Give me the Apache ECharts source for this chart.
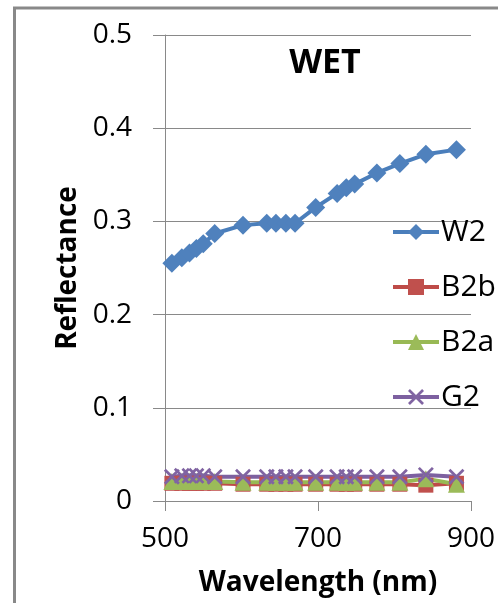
<!DOCTYPE html>
<html>
<head>
<meta charset="utf-8">
<script src="https://cdn.jsdelivr.net/npm/echarts@6/dist/echarts.min.js"></script>
<style>
  html, body { margin: 0; padding: 0; background: #fff; }
  #chart { width: 498px; height: 603px; }
</style>
</head>
<body>
<div id="chart"></div>
<script>
// wavelengths (nm)
const wavelength = [509, 522, 532, 541, 550, 565, 602, 633, 645, 658, 670, 697, 725, 737, 748, 777, 807, 841, 881];
// reflectance per sample
const w2  = [0.255, 0.261, 0.266, 0.271, 0.276, 0.287, 0.296, 0.298, 0.298, 0.298, 0.298, 0.315, 0.330, 0.336, 0.340, 0.352, 0.362, 0.372, 0.377];
const b2b = [0.019, 0.019, 0.019, 0.019, 0.019, 0.019, 0.018, 0.018, 0.018, 0.018, 0.018, 0.018, 0.018, 0.018, 0.018, 0.018, 0.018, 0.017, 0.019];
const b2a = [0.021, 0.021, 0.021, 0.021, 0.021, 0.021, 0.020, 0.020, 0.020, 0.020, 0.020, 0.020, 0.020, 0.020, 0.020, 0.020, 0.020, 0.024, 0.018];
const g2  = [0.026, 0.027, 0.027, 0.027, 0.027, 0.026, 0.026, 0.026, 0.026, 0.026, 0.026, 0.026, 0.026, 0.026, 0.026, 0.026, 0.026, 0.028, 0.026];
const seriesNames = ['W2', 'B2b', 'B2a', 'G2'];
const yTicks = [0, 0.1, 0.2, 0.3, 0.4, 0.5];

const font = "'Open Sans', 'Liberation Sans', sans-serif";
const gridColor = '#898989';
const crossPath = 'path://M0,1.2L1.2,0L5,3.8L8.8,0L10,1.2L6.2,5L10,8.8L8.8,10L5,6.2L1.2,10L0,8.8L3.8,5Z';

function pairs(ys) {
  return wavelength.map((x, i) => [x, ys[i]]);
}

const chart = echarts.init(document.getElementById('chart'));

const option = {
  animation: false,
  textStyle: { fontFamily: font, color: '#000' },
  title: {
    text: 'WET',
    left: 320,
    textAlign: 'center',
    top: 41,
    textStyle: { fontFamily: font, fontSize: 34, fontWeight: 'bold', color: '#000' }
  },
  graphic: [{
    type: 'rect',
    shape: { x: 14.5, y: 8, width: 700, height: 800 },
    style: { fill: 'none', stroke: '#898989', lineWidth: 3 },
    silent: true
  }],
  legend: {
    orient: 'vertical',
    left: 386,
    top: 211,
    itemWidth: 46,
    itemHeight: 20,
    itemGap: 23,
    lineStyle: { width: 4 },
    textStyle: { fontFamily: font, fontSize: 30, lineHeight: 32, color: '#000', padding: [0, 0, 0, -3] },
    data: seriesNames
  },
  grid: { left: 165, right: 26, top: 35, bottom: 102 },
  xAxis: {
    type: 'value',
    min: 500,
    max: 900,
    interval: 200,
    name: 'Wavelength (nm)',
    nameLocation: 'middle',
    nameGap: 68,
    nameTextStyle: { fontFamily: font, fontSize: 28, fontWeight: 'bold', color: '#000' },
    axisLine: { show: true, lineStyle: { color: gridColor, width: 1 } },
    axisTick: { show: true, length: 10, lineStyle: { color: gridColor } },
    axisLabel: { fontFamily: font, fontSize: 28, color: '#000', margin: 24 },
    splitLine: { show: false }
  },
  yAxis: {
    type: 'value',
    min: 0,
    max: 0.5,
    interval: 0.1,
    name: 'Reflectance',
    nameLocation: 'middle',
    nameGap: 62,
    nameTextStyle: { fontFamily: font, fontSize: 28, fontWeight: 'bold', color: '#000' },
    axisLine: { show: true, lineStyle: { color: gridColor, width: 1 } },
    axisTick: { show: true, length: 12, lineStyle: { color: gridColor } },
    axisLabel: {
      fontFamily: font, fontSize: 28, color: '#000', margin: 33,
      formatter: v => yTicks.includes(Math.round(v * 10) / 10) ? String(Math.round(v * 10) / 10) : ''
    },
    splitLine: { show: true, lineStyle: { color: gridColor, width: 1 } }
  },
  series: [
    {
      name: 'W2', type: 'line', data: pairs(w2),
      symbol: 'diamond', symbolSize: 19,
      lineStyle: { color: '#4A7EBB', width: 4 },
      itemStyle: { color: '#4F81BD' }
    },
    {
      name: 'B2b', type: 'line', data: pairs(b2b),
      symbol: 'rect', symbolSize: 15,
      lineStyle: { color: '#BE4B48', width: 4 },
      itemStyle: { color: '#C0504D' }
    },
    {
      name: 'B2a', type: 'line', data: pairs(b2a),
      symbol: 'triangle', symbolSize: 17,
      lineStyle: { color: '#98B954', width: 4 },
      itemStyle: { color: '#9BBB59' }
    },
    {
      name: 'G2', type: 'line', data: pairs(g2),
      symbol: crossPath, symbolSize: 16,
      lineStyle: { color: '#7D60A0', width: 4 },
      itemStyle: { color: '#8064A2' }
    }
  ]
};

chart.setOption(option);
</script>
</body>
</html>
